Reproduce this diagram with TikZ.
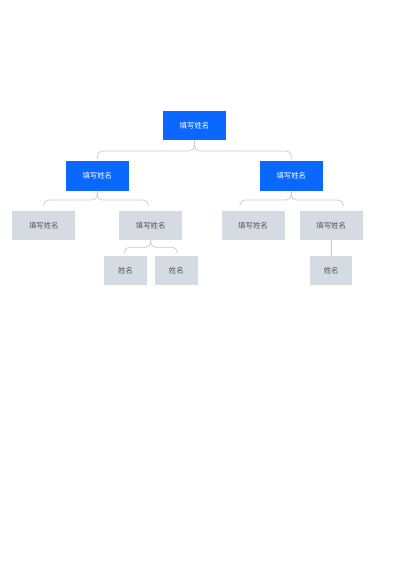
\documentclass[tikz,border=0pt]{standalone}
\usepackage{fontspec}
\newfontfamily\cjk{Noto Sans CJK SC}
\definecolor{headblue}{RGB}{10, 104, 255}
\definecolor{cardgray}{RGB}{213, 219, 227}
\definecolor{linkgray}{RGB}{196, 202, 210}
\definecolor{namegray}{RGB}{80, 84, 90}
\usepackage{tikz}
\usetikzlibrary{calc}

\begin{document}
\begin{tikzpicture}[x=1pt, y=1pt,
  headbox/.style={fill=headblue, text=white, minimum width=63pt, minimum height=29.5pt, inner sep=0pt, font=\cjk\fontsize{7.4}{8}\selectfont},
  namebox/.style={headbox, fill=cardgray, text=namegray},
  smallbox/.style={namebox, minimum width=42.5pt},
  link/.style={draw=linkgray, line width=0.7pt, rounded corners=5pt}]
  \useasboundingbox (0,0) rectangle (400,566);

  % boxes
  \node[headbox] (root) at (194.5,440.5) {填写姓名};
  \node[headbox] (leftlead) at (97.3,390) {填写姓名};
  \node[headbox] (rightlead) at (291.3,390) {填写姓名};

  \node[namebox] (cardA) at (43.8,340.7) {填写姓名};
  \node[namebox] (cardB) at (150.7,340.7) {填写姓名};
  \node[namebox] (cardC) at (253,340.7) {填写姓名};
  \node[namebox] (cardD) at (331.2,340.7) {填写姓名};

  \node[smallbox] (nameE) at (125.5,295.5) {姓名};
  \node[smallbox] (nameF) at (176.3,295.5) {姓名};
  \node[smallbox] (nameG) at (331.2,295.5) {姓名};

  % brackets
  \coordinate (rootmid) at ($(root.south)+(0,-10.5)$);
  \draw[link] ($(leftlead.north)+(0,2)$) |- (rootmid) -- (root.south);
  \draw[link] ($(rightlead.north)+(0,2)$) |- (rootmid) -- (root.south);

  \coordinate (leftmid) at ($(leftlead.south)+(0,-9)$);
  \draw[link] ($(cardA.north)+(0,4)$) |- (leftmid) -- (leftlead.south);
  \draw[link] ($(cardB.north)+(-2.5,4)$) |- (leftmid) -- (leftlead.south);

  \coordinate (rightmid) at ($(rightlead.south)+(0,-9)$);
  \draw[link] ($(cardC.north)+(-13,4)$) |- (rightmid) -- (rightlead.south);
  \draw[link] ($(cardD.north)+(12,4)$) |- (rightmid) -- (rightlead.south);

  \coordinate (cardBmid) at ($(cardB.south)+(0,-7)$);
  \draw[link] ($(nameE.north)+(-1,3.5)$) |- (cardBmid) -- (cardB.south);
  \draw[link] ($(nameF.north)+(1,3.5)$) |- (cardBmid) -- (cardB.south);

  \draw[link] (cardD.south) -- (nameG.north);
\end{tikzpicture}
\end{document}
